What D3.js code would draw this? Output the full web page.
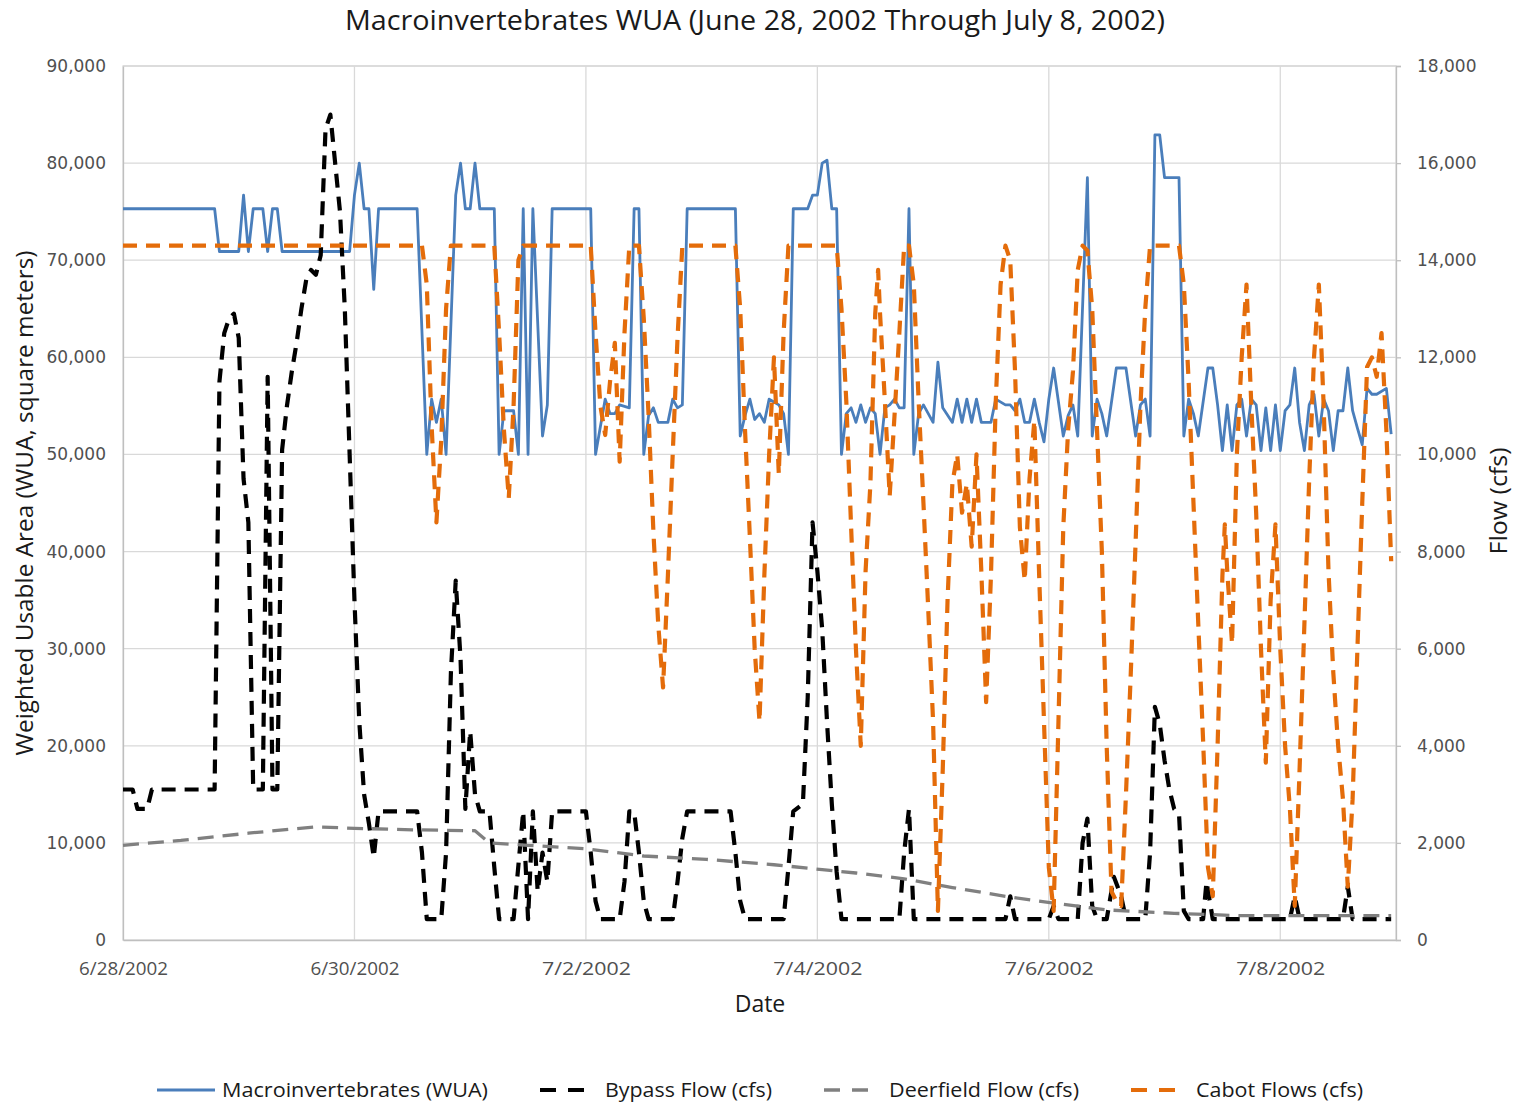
<!DOCTYPE html>
<html>
<head>
<meta charset="utf-8">
<script src="https://cdn.jsdelivr.net/npm/d3@7"></script>
<style>
  body { margin: 0; background: #fff; }
</style>
</head>
<body>
<div id="app"></div>
<script>
// data: [hours since 6/28/2002 00:00, value]
const startDay = "6/28/2002";
const endDay = "7/9/2002";
const dateTicks = ["6/28/2002", "6/30/2002", "7/2/2002", "7/4/2002", "7/6/2002", "7/8/2002"];
const seriesNames = ["Macroinvertebrates (WUA)", "Bypass Flow (cfs)", "Deerfield Flow (cfs)", "Cabot Flows (cfs)"];

// Macroinvertebrates WUA (square meters, left axis)
const wua = [
  [0,75300],[19,75300],[20,70900],[24,70900],[25,76700],[26,70900],[27,75300],[29,75300],[30,70900],
  [31,75300],[32,75300],[33,70900],[47,70900],[48,76700],[49,80000],[50,75300],[51,75300],[52,67000],
  [53,75300],[61,75300],[63,50000],[64,55700],[65,53300],[66,55700],[67,50000],[69,76700],[70,80000],
  [71,75300],[72,75300],[73,80000],[74,75300],[77,75300],[78,50000],[79,54500],[81,54500],[82,50000],
  [83,75300],[84,50000],[85,75300],[87,51900],[88,55100],[89,75300],[97,75300],[98,50000],[100,55700],
  [101,54200],[102,54200],[103,55100],[105,54800],[106,75300],[107,75300],[108,50000],[109,54000],
  [110,54800],[111,53300],[113,53300],[114,55700],[115,54800],[116,55100],[117,75300],[127,75300],
  [128,51900],[129,54000],[130,55700],[131,53600],[132,54200],[133,53300],[134,55700],[135,55400],
  [136,55100],[137,54200],[138,50000],[139,75300],[142,75300],[143,76700],[144,76700],[145,80000],
  [146,80300],[147,75300],[148,75300],[149,50000],[150,54200],[151,54800],[152,53300],[153,55100],
  [154,53300],[155,54800],[156,54200],[157,50000],[158,54800],[159,55100],[160,55700],[161,54800],
  [162,54800],[163,75300],[164,50000],[165,54200],[166,55100],[168,53300],[169,59500],[170,54800],
  [172,53300],[173,55700],[174,53300],[175,55700],[176,53300],[177,55700],[178,53300],[180,53300],
  [181,55700],[183,55100],[184,55100],[185,54500],[186,55700],[187,53300],[188,53300],[189,55700],
  [190,53300],[191,51300],[192,55700],[193,58900],[195,51900],[196,54000],[197,55100],[198,51900],
  [200,78500],[201,51900],[202,55700],[203,54200],[204,51900],[206,58900],[208,58900],[210,51900],
  [211,55100],[212,55700],[213,51900],[214,82900],[215,82900],[216,78500],[219,78500],[220,51900],
  [221,55700],[222,54200],[223,51900],[225,58900],[226,58900],[227,55100],[228,50400],[229,55100],
  [230,50400],[231,55100],[232,55700],[233,51900],[234,55700],[235,55100],[236,50400],[237,54800],
  [238,50400],[239,55100],[240,50400],[241,54500],[242,55100],[243,58900],[244,53300],[245,50400],
  [246,55100],[247,56200],[248,51900],[249,55700],[250,54500],[251,50400],[252,54500],[253,54500],
  [254,58900],[255,54500],[256,52700],[257,51000],[258,56800],[259,56200],[260,56200],[262,56800],
  [263,52100]
];

// Bypass flow (cfs, right axis)
const bypass = [
  [0,3100],[2,3100],[3,2700],[5,2700],[6,3100],[19,3100],[20,11500],[21,12500],[22,12800],[23,12900],
  [24,12400],[25,9500],[26,8600],[27,3100],[29,3100],[30,11600],[31,3100],[32,3100],[33,10100],
  [34,11000],[35,11700],[36,12300],[37,13000],[38,13600],[39,13800],[40,13700],[41,14100],[42,16700],
  [43,17000],[44,16000],[45,15000],[46,13000],[47,10000],[48,7000],[49,4500],[50,3000],[51,2400],
  [52,1700],[53,2650],[61,2650],[62,1800],[63,430],[66,430],[67,1800],[68,5500],[69,7400],[70,5800],
  [71,2700],[72,4300],[73,3000],[74,2650],[76,2650],[77,1500],[78,430],[81,430],[83,2650],[84,430],
  [85,2650],[86,1000],[87,1800],[88,1200],[89,2650],[96,2650],[97,1800],[98,800],[99,430],[103,430],
  [104,1200],[105,2650],[106,2650],[107,1800],[108,800],[109,430],[114,430],[115,1200],[116,2100],
  [117,2650],[126,2650],[127,1800],[128,800],[129,430],[137,430],[138,1500],[139,2650],[141,2800],
  [142,5000],[143,8600],[144,7600],[145,6400],[146,4500],[147,2800],[148,1400],[149,430],[161,430],
  [162,1800],[163,2700],[164,430],[183,430],[184,900],[185,430],[192,430],[193,700],[194,430],
  [198,430],[199,2000],[200,2500],[201,700],[202,430],[204,430],[205.5,1300],[207,900],[208,430],
  [212,430],[213,1800],[214,4800],[215,4450],[216,3700],[217,3100],[218,2700],[219,2600],[220,600],
  [221,430],[224,430],[224.7,1200],[226,430],[242,430],[243,900],[244,430],[253,430],[254,1100],
  [255,430],[263,430]
];

// Deerfield flow (cfs, right axis)
const deerfield = [
  [0,1950],[12,2050],[26,2200],[40,2330],[48,2300],[60,2270],[73,2250],[76,2000],[84,1950],[96,1880],
  [108,1730],[121,1660],[135,1550],[145,1450],[152,1380],[162,1260],[172,1080],[183,900],[193,760],
  [204,620],[218,550],[232,500],[263,500]
];

// Cabot flows (cfs, right axis)
const cabot = [
  [0,14300],[62,14300],[63,13500],[64,10600],[65,8600],[66,10300],[67,13000],[68,14300],[77,14300],
  [78,12500],[79,10500],[80,9100],[81,11000],[82,14000],[83,14300],[97,14300],[98,12500],[99,11000],
  [100,10400],[101,11500],[102,12300],[103,9850],[104,12500],[105,14300],[107,14300],[108,12800],
  [109,10800],[110,8400],[111,6500],[112,5200],[113,7500],[114,10000],[115,12400],[116,14300],
  [127,14300],[128,13000],[129,10500],[130,8300],[131,6000],[132,4500],[133,7500],[134,10000],
  [135,12000],[136,9600],[137,12500],[138,14300],[148,14300],[149,13000],[150,11100],[151,8500],
  [152,6000],[153,4000],[154,7600],[155,9400],[156,12900],[156.6,13800],[157,12900],[158,11100],
  [159,9150],[160,10800],[161,12500],[162,14300],[163,14300],[164,13500],[165,11100],[166,9000],
  [167,6800],[168,4500],[169,600],[170,3500],[171,7000],[172,9400],[173,10000],[174,8800],[175,9400],
  [176,8100],[177,10000],[178,7600],[179,4900],[180,7500],[181,11100],[182,13500],[183,14300],
  [184,14000],[185,11700],[186,8500],[187,7400],[188,9500],[189,10700],[190,7500],[191,4500],
  [192,1500],[193,600],[194,4500],[195,8500],[196,10500],[197,11700],[198,13800],[199,14300],
  [200,14200],[201,13000],[202,10500],[203,8000],[204,4000],[205,1000],[206,800],[207,700],[208,3000],
  [209,5500],[210,8200],[211,11000],[212,13000],[213,14300],[219,14300],[220,13500],[221,11500],
  [222,9000],[223,6500],[224,4100],[225,1500],[226,900],[227,4000],[228,7500],[228.5,8560],[229,7600],
  [230,6100],[231,10000],[232,12000],[233,13500],[234,11000],[235,8800],[236,6000],[237,3650],
  [238,7000],[239,8560],[240,6000],[241,4000],[242,2700],[243,700],[244,3500],[245,6500],[246,9500],
  [247,12000],[248,13500],[249,11000],[250,7600],[251,5500],[252,4000],[253,2900],[254,1100],
  [255,2900],[256,6000],[257,9000],[258,11800],[259,12000],[260,11600],[261,12500],[262,10500],
  [263,7800]
];

// sizing
const width = 1520;
const height = 1106;
const plot = {left: 123, right: 1396, top: 66, bottom: 940};
const narrowFont = "'Liberation Sans Narrow', 'Open Sans', sans-serif";
const numFont = "'DejaVu Sans', Verdana, sans-serif";

const parseDay = d3.timeParse("%m/%d/%Y");
const start = parseDay(startDay);
const toDate = h => new Date(start.getTime() + h * 3600000);

const svg = d3.select("#app")
  .append("svg")
    .attr("width", width)
    .attr("height", height)
    .style("font-family", narrowFont);

// squeeze text to the width seen in the picture
function fit(sel, w) {
  sel.each(function() {
    const cur = this.getComputedTextLength();
    if (Math.abs(cur - w) > 1) {
      d3.select(this).attr("textLength", w).attr("lengthAdjust", "spacingAndGlyphs");
    }
  });
}

// scales
const x = d3.scaleTime()
  .domain([start, parseDay(endDay)])
  .range([plot.left, plot.right]);

const yL = d3.scaleLinear()
  .domain([0, 90000])
  .range([plot.bottom, plot.top]);

const yR = d3.scaleLinear()
  .domain([0, 18000])
  .range([plot.bottom, plot.top]);

// grid
const grid = svg.append("g").attr("class", "grid");
grid.selectAll("line.h")
  .data(d3.range(10000, 90001, 10000))
  .enter().append("line")
    .attr("x1", plot.left).attr("x2", plot.right)
    .attr("y1", d => yL(d)).attr("y2", d => yL(d))
    .attr("stroke", "#d9d9d9").attr("stroke-width", 1.3);

grid.selectAll("line.v")
  .data(dateTicks.slice(1).map(parseDay))
  .enter().append("line")
    .attr("x1", d => x(d)).attr("x2", d => x(d))
    .attr("y1", plot.top).attr("y2", plot.bottom)
    .attr("stroke", "#d9d9d9").attr("stroke-width", 1.3);

grid.append("rect")
  .attr("x", plot.left).attr("y", plot.top)
  .attr("width", plot.right - plot.left).attr("height", plot.bottom - plot.top)
  .attr("fill", "none").attr("stroke", "#d9d9d9").attr("stroke-width", 1.3);

// axes
const gLeft = svg.append("g")
  .attr("transform", `translate(${plot.left},0)`)
  .call(d3.axisLeft(yL).tickValues(d3.range(0, 90001, 10000)).tickFormat(d3.format(",")).tickSize(0).tickPadding(17));

const gRight = svg.append("g")
  .attr("transform", `translate(${plot.right},0)`)
  .call(d3.axisRight(yR).tickValues(d3.range(0, 18001, 2000)).tickFormat(d3.format(",")).tickSize(5).tickPadding(16));

const gBottom = svg.append("g")
  .attr("transform", `translate(0,${plot.bottom})`)
  .call(d3.axisBottom(x).tickValues(dateTicks.map(parseDay)).tickFormat((d, i) => dateTicks[i]).tickSize(0).tickPadding(22));

[gLeft, gRight, gBottom].forEach(g => {
  g.select(".domain").attr("stroke", "#bfbfbf").attr("stroke-width", 1.3);
  g.selectAll(".tick line").attr("stroke", "#bfbfbf").attr("stroke-width", 1.3);
});
gLeft.selectAll("text").style("font-family", numFont).style("font-size", "17px").attr("fill", "#505050");
gRight.selectAll("text").style("font-family", numFont).style("font-size", "17px").attr("fill", "#505050");
gBottom.selectAll("text").style("font-family", narrowFont).style("font-size", "18px").attr("fill", "#505050")
  .call(fit, 89);

// series
const lineL = d3.line().x(d => x(toDate(d[0]))).y(d => yL(d[1]));
const lineR = d3.line().x(d => x(toDate(d[0]))).y(d => yR(d[1]));

const colors = ["#4a7ebb", "#000000", "#808080", "#e46c0a"];
const dashes = [null, "14 9", "16 9", "14 9"];
const widths = [2.8, 4.2, 3.3, 4.2];

svg.append("path").datum(wua)
  .attr("d", lineL).attr("fill", "none")
  .attr("stroke", colors[0]).attr("stroke-width", widths[0]).attr("stroke-linejoin", "round");

[bypass, deerfield, cabot].forEach((s, i) => {
  svg.append("path").datum(s)
    .attr("d", lineR).attr("fill", "none")
    .attr("stroke", colors[i + 1]).attr("stroke-width", widths[i + 1])
    .attr("stroke-dasharray", dashes[i + 1]).attr("stroke-linejoin", "round");
});

// titles
svg.append("text")
  .attr("x", 755).attr("y", 30)
  .attr("text-anchor", "middle")
  .style("font-size", "27px").attr("fill", "#1a1a1a")
  .text("Macroinvertebrates WUA (June 28, 2002 Through July 8, 2002)")
  .call(fit, 820);

svg.append("text")
  .attr("transform", "translate(33,503) rotate(-90)")
  .attr("text-anchor", "middle")
  .style("font-size", "23px").attr("fill", "#1a1a1a")
  .text("Weighted Usable Area (WUA, square meters)")
  .call(fit, 505);

svg.append("text")
  .attr("transform", "translate(1507,501) rotate(-90)")
  .attr("text-anchor", "middle")
  .style("font-size", "23px").attr("fill", "#1a1a1a")
  .text("Flow (cfs)")
  .call(fit, 107);

svg.append("text")
  .attr("x", 760).attr("y", 1012)
  .attr("text-anchor", "middle")
  .style("font-size", "23px").attr("fill", "#1a1a1a")
  .text("Date")
  .call(fit, 50);

// legend
const legendW = [266, 167, 190, 167];
const legend = svg.append("g");
let lx = 157;
seriesNames.forEach((name, i) => {
  const symLen = i === 0 ? 58 : 45;
  legend.append("line")
    .attr("x1", lx).attr("x2", lx + symLen)
    .attr("y1", 1090).attr("y2", 1090)
    .attr("stroke", colors[i]).attr("stroke-width", widths[i])
    .attr("stroke-dasharray", i === 0 ? null : "16 12");
  legend.append("text")
    .attr("x", lx + 65).attr("y", 1097)
    .style("font-size", "20px").attr("fill", "#1a1a1a")
    .text(name)
    .call(fit, legendW[i]);
  lx += 65 + legendW[i] + 52;
});
</script>
</body>
</html>
